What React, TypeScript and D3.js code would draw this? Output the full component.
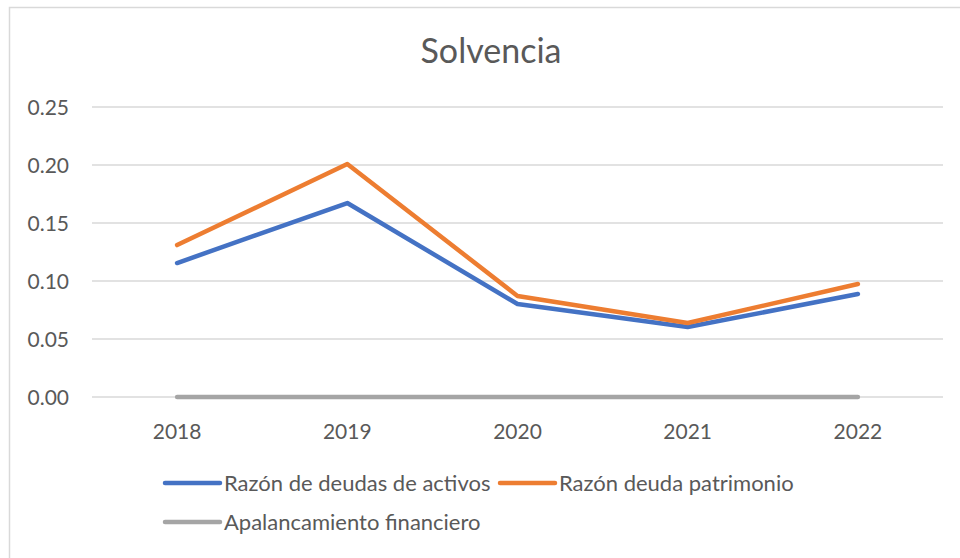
import * as React from "react";
import * as d3 from "d3";

const years = ["2018", "2019", "2020", "2021", "2022"];
const razonDeudasActivos = [0.1155, 0.1672, 0.0802, 0.0603, 0.0888];
const razonDeudaPatrimonio = [0.131, 0.2009, 0.0871, 0.0638, 0.0974];
const apalancamiento = [0, 0, 0, 0, 0];
const yTicks = [0, 0.05, 0.1, 0.15, 0.2, 0.25];

const series = [
  { name: "Razón de deudas de activos", values: razonDeudasActivos, color: "#4472C4" },
  { name: "Razón deuda patrimonio", values: razonDeudaPatrimonio, color: "#ED7D31" },
  { name: "Apalancamiento financiero", values: apalancamiento, color: "#A5A5A5" },
];

const font = "Lato, 'Open Sans', sans-serif";
const ink = "#595959";

export default function App() {
  const width = 960;
  const height = 558;
  const left = 92;
  const right = 943;
  const top = 107;
  const bottom = 397;

  const x = d3.scaleBand<string>().domain(years).range([left, right]);
  const y = d3.scaleLinear().domain([0, 0.25]).range([bottom, top]);
  const line = d3
    .line<number>()
    .x((_, i) => (x(years[i]) ?? 0) + x.bandwidth() / 2)
    .y((d) => y(d));

  const legendRows = [
    [{ s: series[0], x: 165 }, { s: series[1], x: 500 }],
    [{ s: series[2], x: 165 }],
  ];

  return (
    <svg
      width={width}
      height={height}
      style={{ position: "absolute", left: 0, top: 0, background: "#fff" }}
      viewBox={`0 0 ${width} ${height}`}
    >
      <rect x={9.5} y={7.5} width={1000} height={600} fill="#fff" stroke="#d9d9d9" strokeWidth={1.5} />
      <text x={491} y={63} textAnchor="middle" fill={ink} fontSize={34} fontFamily={font}>
        Solvencia
      </text>

      {yTicks.map((t) => (
        <g key={t}>
          <line x1={left} x2={right} y1={y(t)} y2={y(t)} stroke="#d9d9d9" strokeWidth={1.5} />
          <text x={69} y={y(t) + 7.5} textAnchor="end" fill={ink} fontSize={21} fontFamily={font}>
            {t.toFixed(2)}
          </text>
        </g>
      ))}

      {years.map((yr) => (
        <text
          key={yr}
          x={(x(yr) ?? 0) + x.bandwidth() / 2}
          y={439}
          textAnchor="middle"
          fill={ink}
          fontSize={21}
          fontFamily={font}
        >
          {yr}
        </text>
      ))}

      {series.map((s) => (
        <path
          key={s.name}
          d={line(s.values) ?? ""}
          fill="none"
          stroke={s.color}
          strokeWidth={4.5}
          strokeLinecap="round"
          strokeLinejoin="round"
        />
      ))}

      {legendRows.map((row, ri) =>
        row.map(({ s, x: lx }) => {
          const ly = 483 + ri * 39;
          return (
            <g key={s.name}>
              <line x1={lx} x2={lx + 55} y1={ly} y2={ly} stroke={s.color} strokeWidth={4.5} strokeLinecap="round" />
              <text x={lx + 59} y={ly + 7.5} fill={ink} fontSize={22} fontFamily={font}>
                {s.name}
              </text>
            </g>
          );
        })
      )}
    </svg>
  );
}
